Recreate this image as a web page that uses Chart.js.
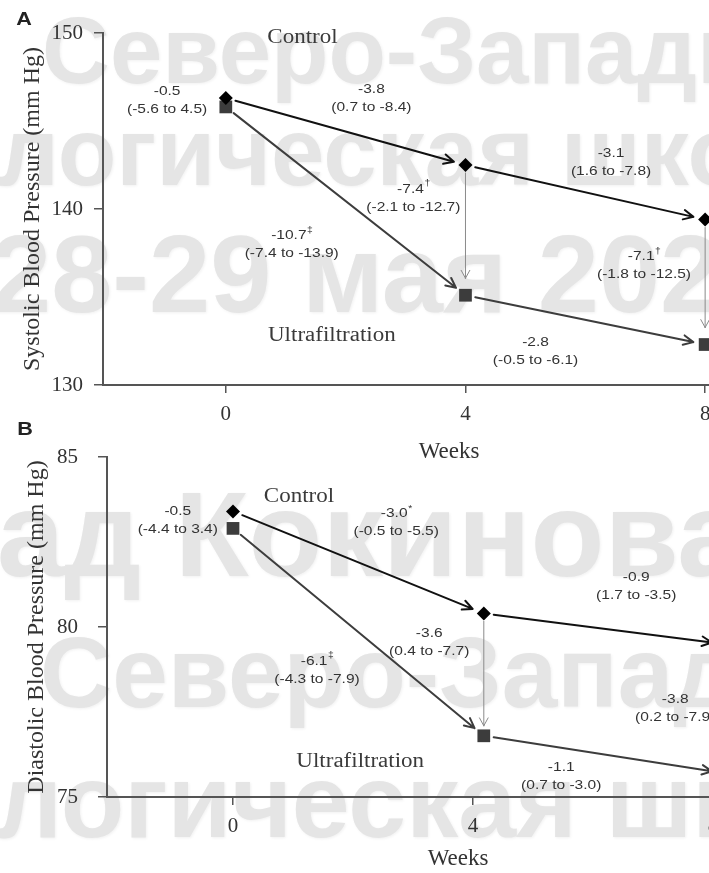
<!DOCTYPE html>
<html>
<head>
<meta charset="utf-8">
<script src="https://cdn.jsdelivr.net/npm/chart.js@4.4.1/dist/chart.umd.min.js"></script>
<style>
  html, body { margin: 0; padding: 0; background: #fff; }
  body { width: 709px; height: 873px; overflow: hidden; position: relative; }
  .wm {
    position: absolute; white-space: nowrap; line-height: 1;
    font-family: "Liberation Sans", Arial, sans-serif; font-weight: bold;
    color: #e5e5e5; text-shadow: 1px 1px 3px rgba(0,0,0,0.06);
    filter: blur(0.7px);
  }
  canvas { position: absolute; left: 0; }
  #chartA { top: 0; }
  #chartB { top: 420px; }
</style>
</head>
<body>
<div class="wm" style="left:42px;top:4px;font-size:94px">Северо-Западная</div>
<div class="wm" style="left:-2px;top:104px;font-size:96px">логическая школа</div>
<div class="wm" style="left:-10px;top:219px;font-size:110px">28-29 мая 2025</div>
<div class="wm" style="left:-3px;top:474px;font-size:121px">ад Кокинова</div>
<div class="wm" style="left:40px;top:622px;font-size:100px">Северо-Западная</div>
<div class="wm" style="left:-4px;top:749px;font-size:104px">логическая школа</div>

<canvas id="chartA" width="830" height="470"></canvas>
<canvas id="chartB" width="830" height="453"></canvas>

<script>
// ---- Study visits ----
const weeks = [0, 4, 8];
const tickWeeks = [0, 4, 8];

// ---- Panel A: systolic blood pressure (mm Hg) ----
const sbpControl = [146.3, 142.5, 139.4];
const sbpUltra   = [145.8, 135.1, 132.3];
const sbpTicks   = [130, 140, 150];
// mean change, significance mark, 95% CI
const sbpChanges = [
  ['-0.5', '',  '(-5.6 to 4.5)'],
  ['-3.8', '',  '(0.7 to -8.4)'],
  ['-7.4', '†', '(-2.1 to -12.7)'],
  ['-10.7', '‡', '(-7.4 to -13.9)'],
  ['-3.1', '',  '(1.6 to -7.8)'],
  ['-7.1', '†', '(-1.8 to -12.5)'],
  ['-2.8', '',  '(-0.5 to -6.1)']
];

// ---- Panel B: diastolic blood pressure (mm Hg) ----
const dbpWeeks   = [0, 4.18, 8.18];
const dbpControl = [83.4, 80.4, 79.5];
const dbpUltra   = [82.9, 76.8, 75.7];
const dbpTicks   = [75, 80, 85];
const dbpChanges = [
  ['-0.5', '',  '(-4.4 to 3.4)'],
  ['-3.0', '*', '(-0.5 to -5.5)'],
  ['-0.9', '',  '(1.7 to -3.5)'],
  ['-3.6', '',  '(0.4 to -7.7)'],
  ['-6.1', '‡', '(-4.3 to -7.9)'],
  ['-3.8', '',  '(0.2 to -7.9)'],
  ['-1.1', '',  '(0.7 to -3.0)']
];

const groupNames = ['Control', 'Ultrafiltration'];

// ---- Label placement (axis units: weeks, mm Hg) ----
const sbpChangeAt = [[-0.98,146.19],[2.43,146.31],[3.13,140.63],[1.10,138.01],[6.43,142.67],[6.98,136.79],[5.17,131.93]];
const sbpGroupAt  = [[1.28,149.72],[1.77,132.78]];
const dbpChangeAt = [[-0.92,83.13],[2.72,83.07],[6.72,81.19],[3.27,79.54],[1.40,78.74],[7.37,77.60],[5.47,75.62]];
const dbpGroupAt  = [[1.10,83.82],[2.12,76.03]];

const SERIF = '"Liberation Serif", "Times New Roman", serif';
const SANS  = '"Liberation Sans", Arial, sans-serif';

function stretchedText(ctx, text, x, y, font, color, sx) {
  ctx.save();
  ctx.translate(x, y);
  ctx.scale(sx, 1);
  ctx.font = font;
  ctx.fillStyle = color;
  ctx.textAlign = 'center';
  ctx.textBaseline = 'middle';
  ctx.fillText(text, 0, 0);
  ctx.restore();
}

function valueWithMark(ctx, value, mark, x, y, sx) {
  ctx.save();
  ctx.translate(x, y);
  ctx.scale(sx, 1);
  ctx.fillStyle = '#333';
  ctx.textBaseline = 'middle';
  ctx.textAlign = 'left';
  ctx.font = '13.5px ' + SANS;
  const w = ctx.measureText(value).width;
  ctx.font = '9px ' + SANS;
  const wm = mark ? ctx.measureText(mark).width : 0;
  const left = -(w + wm) / 2;
  ctx.font = '13.5px ' + SANS;
  ctx.fillText(value, left, 0);
  if (mark) {
    ctx.font = '9px ' + SANS;
    ctx.fillText(mark, left + w + 0.5, -5);
  }
  ctx.restore();
}

function arrow(ctx, x0, y0, x1, y1, startGap, endGap, headLen, headAng) {
  const dx = x1 - x0, dy = y1 - y0;
  const len = Math.hypot(dx, dy);
  const ux = dx / len, uy = dy / len;
  const sx = x0 + ux * startGap, sy = y0 + uy * startGap;
  const ex = x1 - ux * endGap, ey = y1 - uy * endGap;
  const ang = Math.atan2(dy, dx);
  ctx.beginPath();
  ctx.moveTo(sx, sy);
  ctx.lineTo(ex, ey);
  for (const s of [-1, 1]) {
    const t = ang + Math.PI + s * headAng;
    ctx.moveTo(ex, ey);
    ctx.lineTo(ex + Math.cos(t) * headLen, ey + Math.sin(t) * headLen);
  }
  ctx.stroke();
}

// Arrows between consecutive visits, drops between groups, and the text notes
const trialDecor = {
  id: 'trialDecor',
  beforeDatasetsDraw(chart, args, o) {
    const ctx = chart.ctx;
    ctx.save();
    ctx.lineCap = 'round';
    chart.data.datasets.forEach((ds, di) => {
      const pts = chart.getDatasetMeta(di).data;
      ctx.strokeStyle = ds.linkColor;
      ctx.lineWidth = 2;
      for (let i = 0; i < pts.length - 1; i++) {
        arrow(ctx, pts[i].x, pts[i].y, pts[i + 1].x, pts[i + 1].y, 10, 12, 11, 0.45);
      }
    });
    const c = chart.getDatasetMeta(0).data;
    const u = chart.getDatasetMeta(1).data;
    ctx.strokeStyle = '#8a8a8a';
    ctx.lineWidth = 1;
    for (let i = 1; i < c.length; i++) {
      const x = c[i].x;
      arrow(ctx, x, c[i].y, x, u[i].y, 8, o.dropGap, 9, 0.5);
    }
    ctx.restore();
  },
  afterDatasetsDraw(chart, args, o) {
    const ctx = chart.ctx;
    const xs = chart.scales.x, ys = chart.scales.y;
    o.changes.forEach((c, i) => {
      const px = xs.getPixelForValue(o.changeAt[i][0]);
      const py = ys.getPixelForValue(o.changeAt[i][1]);
      valueWithMark(ctx, c[0], c[1], px, py - 9, 1.15);
      stretchedText(ctx, c[2], px, py + 9, '13.5px ' + SANS, '#333', 1.15);
    });
    groupNames.forEach((g, i) => {
      const px = xs.getPixelForValue(o.groupAt[i][0]);
      const py = ys.getPixelForValue(o.groupAt[i][1]);
      stretchedText(ctx, g, px, py, '20px ' + SERIF, '#3a3a3a', 1.15);
    });
    stretchedText(ctx, o.letter, o.letterPos[0], o.letterPos[1], 'bold 18px ' + SANS, '#222', 1.2);
  }
};

function makePanel(id, cfg) {
  const series = (xv, yv) => xv.map((w, i) => ({ x: w, y: yv[i] }));
  return new Chart(document.getElementById(id), {
    type: 'scatter',
    data: {
      datasets: [
        { label: groupNames[0], data: series(cfg.weeks, cfg.control),
          pointStyle: 'rectRot', pointRadius: 7, backgroundColor: '#000', borderColor: '#000',
          borderWidth: 0, showLine: false, linkColor: '#111' },
        { label: groupNames[1], data: series(cfg.weeks, cfg.ultra),
          pointStyle: 'rect', pointRadius: 9, backgroundColor: '#3c3c3c', borderColor: '#3c3c3c',
          borderWidth: 0, showLine: false, linkColor: '#3d3d3d' }
      ]
    },
    options: {
      responsive: false,
      devicePixelRatio: 1,
      animation: false,
      events: [],
      layout: { padding: { top: cfg.padTop, right: cfg.padRight, bottom: 0, left: 0 } },
      plugins: {
        legend: { display: false },
        tooltip: { enabled: false },
        trialDecor: {
          changes: cfg.changes, changeAt: cfg.changeAt, groupAt: cfg.groupAt,
          letter: cfg.letter, letterPos: cfg.letterPos, dropGap: cfg.dropGap
        }
      },
      scales: {
        x: {
          type: 'linear', min: cfg.xMin, max: cfg.xMax,
          afterBuildTicks: s => { s.ticks = tickWeeks.map(v => ({ value: v })); },
          afterFit: s => { s.height = cfg.xAxisHeight; },
          border: { display: true, color: '#555', width: 2 },
          grid: { drawOnChartArea: false, drawTicks: true, tickLength: 8, color: '#555', lineWidth: 1.5 },
          ticks: { color: '#333', font: { family: SERIF, size: 21 }, padding: 9, maxRotation: 0, autoSkip: false,
                   callback: v => String(v) },
          title: { display: true, text: 'Weeks', color: '#333', font: { family: SERIF, size: 23 },
                   padding: { top: 0, bottom: cfg.weeksPad } }
        },
        y: {
          type: 'linear', min: cfg.yTicks[0], max: cfg.yTicks[cfg.yTicks.length - 1],
          afterBuildTicks: s => { s.ticks = cfg.yTicks.map(v => ({ value: v })); },
          afterFit: s => { s.width = cfg.yAxisWidth; },
          border: { display: true, color: '#555', width: 2 },
          grid: { drawOnChartArea: false, drawTicks: true, tickLength: 9, color: '#555', lineWidth: 1.5 },
          ticks: { color: '#333', font: { family: SERIF, size: 21 }, padding: cfg.yTickPad,
                   callback: v => String(v) },
          title: { display: true, text: cfg.yTitle, color: '#333', font: { family: SERIF, size: 24 },
                   padding: { top: cfg.yTitlePad, bottom: 0 } }
        }
      }
    },
    plugins: [trialDecor]
  });
}

makePanel('chartA', {
  weeks: weeks, control: sbpControl, ultra: sbpUltra, yTicks: sbpTicks,
  changes: sbpChanges, changeAt: sbpChangeAt, groupAt: sbpGroupAt,
  yTitle: 'Systolic Blood Pressure (mm Hg)', letter: 'A', letterPos: [24, 20],
  xMin: -2.05, xMax: 9.5, padTop: 33, padRight: 35, xAxisHeight: 85, yAxisWidth: 103,
  yTickPad: 11, yTitlePad: 18, weeksPad: 4, dropGap: 17
});

makePanel('chartB', {
  weeks: dbpWeeks, control: dbpControl, ultra: dbpUltra, yTicks: dbpTicks,
  changes: dbpChanges, changeAt: dbpChangeAt, groupAt: dbpGroupAt,
  yTitle: 'Diastolic Blood Pressure (mm Hg)', letter: 'B', letterPos: [25, 10],
  xMin: -2.1, xMax: 9.6, padTop: 37, padRight: 21, xAxisHeight: 76, yAxisWidth: 107,
  yTickPad: 20, yTitlePad: 22, weeksPad: 0, dropGap: 10
});
</script>
</body>
</html>
